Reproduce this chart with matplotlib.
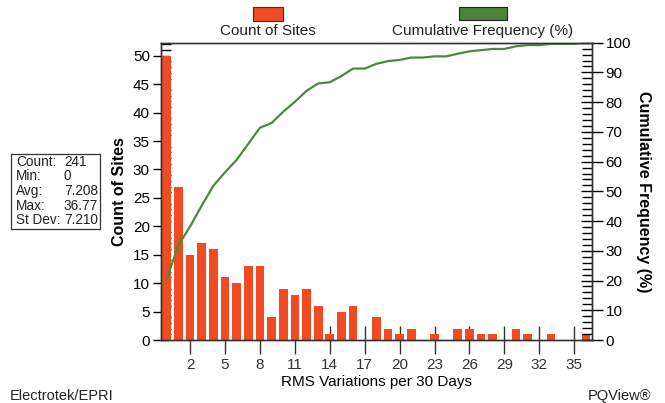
import matplotlib
matplotlib.use('Agg')
import matplotlib.pyplot as plt
from matplotlib.patches import Rectangle
from matplotlib.ticker import MultipleLocator


# Data
rms_bins = list(range(37))
site_counts = [50, 27, 15, 17, 16, 11, 10, 13, 13, 4,
               9, 8, 9, 6, 1, 5, 6, 0, 4, 2,
               1, 2, 0, 1, 0, 2, 2, 1, 1, 0,
               2, 1, 0, 1, 0, 0, 1]
cum_pct = [20.7, 31.9, 38.2, 45.2, 51.9, 56.4, 60.6, 66.0, 71.4, 73.0,
           76.8, 80.1, 83.8, 86.3, 86.7, 88.8, 91.3, 91.3, 92.9, 93.8,
           94.2, 95.0, 95.0, 95.4, 95.4, 96.3, 97.1, 97.5, 97.9, 97.9,
           98.8, 99.2, 99.2, 99.6, 99.6, 99.6, 100.0]
xtick_values = [2, 5, 8, 11, 14, 17, 20, 23, 26, 29, 32, 35]
stat_names = ['Count:', 'Min:', 'Avg:', 'Max:', 'St Dev:']
stat_values = ['241', '0', '7.208', '36.77', '7.210']

BAR_COLOR = '#F04B23'
LINE_COLOR = '#4A8B3B'
TEXT_COLOR = '#222222'

plt.rcParams['font.family'] = ['Liberation Sans', 'DejaVu Sans']
plt.rcParams['font.size'] = 11

W, H = 665, 403
fig = plt.figure(figsize=(W / 100, H / 100), dpi=100)
ax = fig.add_axes([161 / W, 1 - 340 / H, (591.7 - 161) / W, (340 - 42.7) / H])

ax.bar(rms_bins, site_counts, width=0.75, color=BAR_COLOR, linewidth=0, zorder=2)
ax.set_axisbelow(True)
ax.set_xlim(-0.5, 36.5)
ax.set_ylim(0, 52.3)
ax.set_xticks(xtick_values)
ax.set_yticks(range(0, 51, 5))
ax.yaxis.set_minor_locator(MultipleLocator(1))
ax.tick_params(axis='x', direction='inout', length=20, width=1, pad=3, labelsize=11, colors='#333333')
ax.tick_params(axis='y', which='major', direction='inout', length=12, width=1, pad=2, labelsize=11)
ax.tick_params(axis='y', which='minor', direction='in', length=7, width=1)
ax.set_xlabel('RMS Variations per 30 Days', fontsize=11, labelpad=2)
ax.set_ylabel('Count of Sites', fontsize=11.5, fontweight='bold', labelpad=4)

ax2 = ax.twinx()
ax2.plot(rms_bins, cum_pct, color=LINE_COLOR, lw=1.6)
ax2.set_ylim(0, 100)
ax2.set_yticks(range(0, 101, 10))
ax2.yaxis.set_minor_locator(MultipleLocator(2))
ax2.tick_params(axis='y', which='major', direction='inout', length=16, width=1, pad=2, labelsize=11)
ax2.tick_params(axis='y', which='minor', direction='in', length=7, width=1)
ax2.set_ylabel('Cumulative Frequency (%)', fontsize=11.5, fontweight='bold', rotation=270, labelpad=14)

for a in (ax, ax2):
    for sp in a.spines.values():
        sp.set_color('#333333')
        sp.set_linewidth(1)

# Legend above the plot
fig.add_artist(Rectangle((253 / W, 1 - 21 / H), 30 / W, 14 / H, transform=fig.transFigure,
                         facecolor=BAR_COLOR, edgecolor='#333333', lw=0.8))
fig.add_artist(Rectangle((459 / W, 1 - 20 / H), 48 / W, 13 / H, transform=fig.transFigure,
                         facecolor='#4A8339', edgecolor='#222222', lw=0.8))
fig.text(268 / W, 1 - 31 / H, 'Count of Sites', ha='center', va='center', fontsize=11, color=TEXT_COLOR)
fig.text(483 / W, 1 - 31 / H, 'Cumulative Frequency (%)', ha='center', va='center', fontsize=11,
         color=TEXT_COLOR)

# Stats box
fig.add_artist(Rectangle((11 / W, 1 - 229 / H), 89 / W, 75 / H, transform=fig.transFigure,
                         facecolor='white', edgecolor='#333333', lw=0.9))
for i, (name, val) in enumerate(zip(stat_names, stat_values)):
    y = 1 - (162 + i * 14.5) / H
    fig.text(16 / W, y, name, ha='left', va='center', fontsize=9.8, color=TEXT_COLOR)
    fig.text(64 / W, y, val, ha='left', va='center', fontsize=9.8, color=TEXT_COLOR)

fig.text(10 / W, 1 - 396 / H, 'Electrotek/EPRI', ha='left', va='center', fontsize=10.5, color=TEXT_COLOR)
fig.text(651 / W, 1 - 396 / H, 'PQView®', ha='right', va='center', fontsize=10.5, color=TEXT_COLOR)

fig.savefig('out.png', dpi=100)
